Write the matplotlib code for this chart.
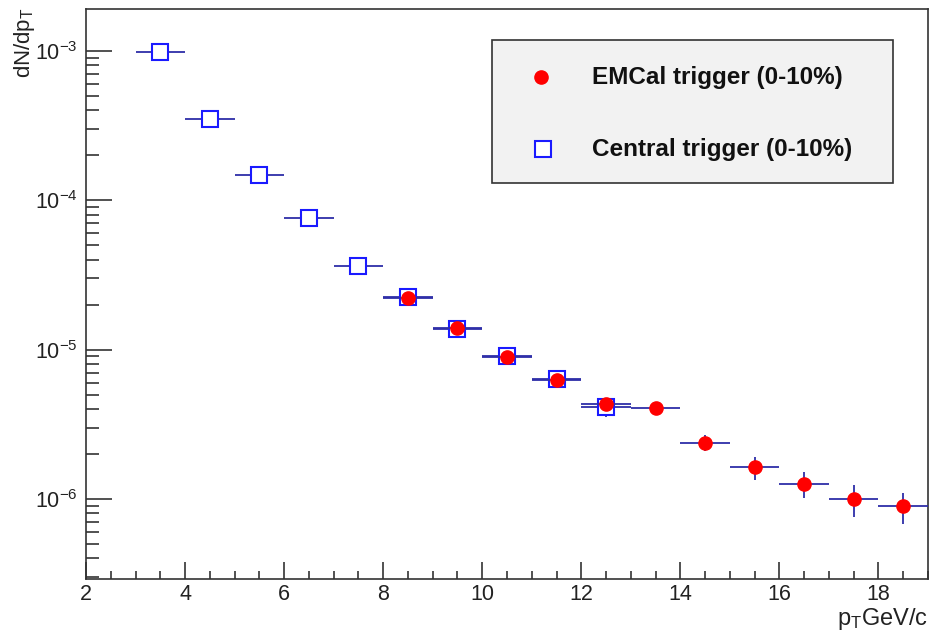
import numpy as np
import matplotlib
matplotlib.use("Agg")
import matplotlib.pyplot as plt
from matplotlib.patches import Rectangle
from matplotlib.ticker import LogLocator, MultipleLocator, NullFormatter, LogFormatterMathtext

plt.rcParams['font.family'] = ['Liberation Sans', 'DejaVu Sans']
plt.rcParams['mathtext.default'] = 'regular'

# ---- spectra ---------------------------------------------------------------
pt_central = [3.5, 4.5, 5.5, 6.5, 7.5, 8.5, 9.5, 10.5, 11.5, 12.5]
y_central = [9.9e-4, 3.5e-4, 1.48e-4, 7.6e-5, 3.63e-5, 2.25e-5, 1.38e-5, 9.0e-6, 6.35e-6, 4.15e-6]
yerr_central = [1.5e-5, 6e-6, 2.5e-6, 1.3e-6, 7e-7, 5e-7, 3.5e-7, 2.5e-7, 2.0e-7, 6.0e-7]

pt_emcal = [8.5, 9.5, 10.5, 11.5, 12.5, 13.5, 14.5, 15.5, 16.5, 17.5, 18.5]
y_emcal = [2.21e-5, 1.39e-5, 8.96e-6, 6.25e-6, 4.32e-6, 4.04e-6, 2.38e-6, 1.63e-6, 1.26e-6, 1.0e-6, 8.9e-7]
yerr_emcal = [1.0e-6, 1.2e-6, 5e-7, 3.5e-7, 4e-7, 2.5e-7, 3.0e-7, 2.9e-7, 2.5e-7, 2.4e-7, 2.1e-7]

xerr = 0.5
lab_emcal = 'EMCal trigger (0-10%)'
lab_central = 'Central trigger (0-10%)'

fig = plt.figure(figsize=(9.32, 6.39), dpi=100)
ax = fig.add_axes([0.0923, 0.094, 0.9034, 0.892])

line_col = '#2e2ea8'
sq_style = dict(mfc='white', mec='#1a1aff', mew=1.5, ms=11.5)
dot_style = dict(mfc='#ff0000', mec='#ff0000', ms=9.5)

ax.errorbar(pt_central, y_central, xerr=xerr, yerr=yerr_central, fmt='s',
            ecolor=line_col, elinewidth=1.3, capsize=0, zorder=3, **sq_style)
ax.errorbar(pt_emcal, y_emcal, xerr=xerr, yerr=yerr_emcal, fmt='o',
            ecolor=line_col, elinewidth=1.3, capsize=0, zorder=4, **dot_style)

ax.set_yscale('log')
ax.set_xlim(2, 19)
ax.set_ylim(2.91e-7, 1.91e-3)

ax.xaxis.set_major_locator(MultipleLocator(2))
ax.xaxis.set_minor_locator(MultipleLocator(0.5))
ax.yaxis.set_major_locator(LogLocator(base=10))
ax.yaxis.set_minor_locator(LogLocator(base=10, subs=np.arange(2, 10)))
ax.yaxis.set_major_formatter(LogFormatterMathtext())
ax.yaxis.set_minor_formatter(NullFormatter())

for s in ['top', 'right', 'left', 'bottom']:
    ax.spines[s].set_color('#333333')
    ax.spines[s].set_linewidth(1.2)

ax.tick_params(axis='x', which='major', direction='in', length=12.5, width=1.1,
               labelsize=15.5, pad=4, colors='#222222')
ax.tick_params(axis='x', which='minor', direction='in', length=6, width=1.1,
               colors='#222222')
ax.tick_params(axis='y', which='major', direction='in', length=19, width=1.1,
               labelsize=15.5, pad=6, colors='#222222')
ax.tick_params(axis='y', which='minor', direction='in', length=9.5, width=1.1,
               colors='#222222')
ax.tick_params(top=False, right=False, which='both')

fig.text(0.013, 0.988, r'dN/dp$_{T}$', rotation=90, ha='left', va='top',
         fontsize=16, color='#222222')
fig.text(0.996, 0.022, r'p$_{T}$GeV/c', ha='right', va='baseline',
         fontsize=17, color='#222222')

# legend box drawn in axes coordinates
box = Rectangle((0.482, 0.695), 0.476, 0.251, transform=ax.transAxes,
                facecolor='#f2f2f2', edgecolor='#333333', linewidth=1.2, zorder=5)
ax.add_patch(box)
ax.plot([0.540], [0.880], 'o', transform=ax.transAxes, zorder=6,
        clip_on=False, **dot_style)
ax.plot([0.543], [0.754], 's', transform=ax.transAxes, zorder=6,
        clip_on=False, **sq_style)
ax.text(0.601, 0.880, lab_emcal, transform=ax.transAxes, fontsize=17.5,
        fontweight='bold', va='center', ha='left', zorder=6, color='#111111')
ax.text(0.601, 0.754, lab_central, transform=ax.transAxes, fontsize=17.5,
        fontweight='bold', va='center', ha='left', zorder=6, color='#111111')

fig.savefig('out.png', dpi=100)
